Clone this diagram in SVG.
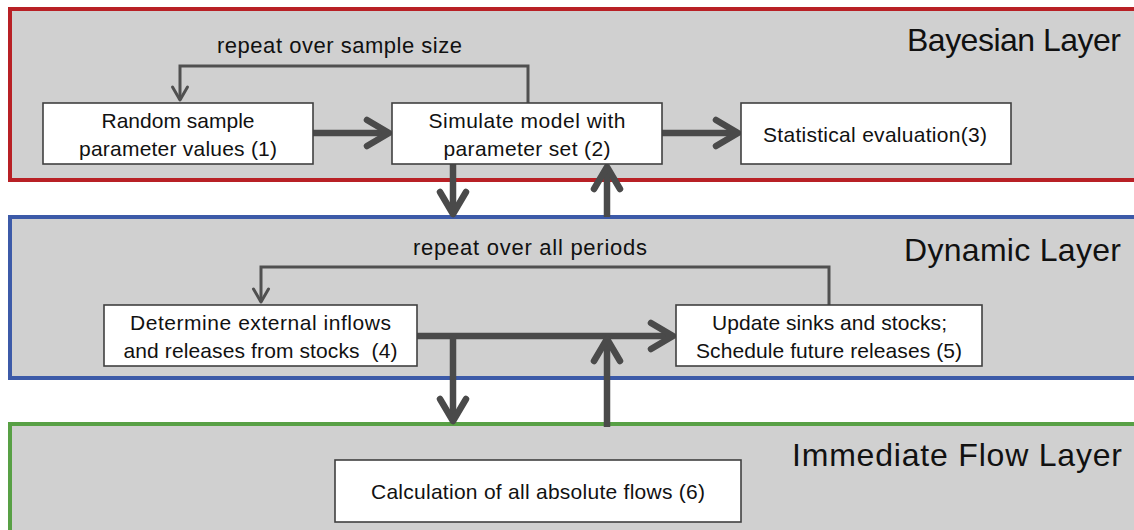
<svg xmlns="http://www.w3.org/2000/svg" width="1134" height="530" viewBox="0 0 1134 530">
<style>
.layer{fill:#d0d0d0;stroke-width:4}
.box{fill:#ffffff;stroke:#404040;stroke-width:1.6}
.t{font-family:"Liberation Sans",Arial,sans-serif;font-size:21px;fill:#111;text-anchor:middle}
.lbl{font-size:22px}
.title{font-family:"Liberation Sans",Arial,sans-serif;font-size:32px;fill:#111;text-anchor:end}
.thick{fill:none;stroke:#4a4a4a;stroke-width:6.5}
.thin{fill:none;stroke:#505050;stroke-width:3}
</style>
<defs>
<marker id="ah" markerUnits="userSpaceOnUse" markerWidth="40" markerHeight="40" refX="0" refY="0" orient="auto" overflow="visible">
<path d="M-22,-13 L0,0 L-22,13" fill="none" stroke="#4a4a4a" stroke-width="6.5" stroke-linecap="round" stroke-linejoin="round"/>
</marker>
<marker id="ahs" markerUnits="userSpaceOnUse" markerWidth="30" markerHeight="30" refX="0" refY="0" orient="auto" overflow="visible">
<path d="M-13,-7.5 L0,0 L-13,7.5" fill="none" stroke="#505050" stroke-width="3" stroke-linecap="round" stroke-linejoin="round"/>
</marker>
</defs>

<g id="layer-bayesian">
<rect class="layer" x="10" y="9" width="1140" height="171" stroke="#b82025"/>
<text class="title" x="1121" y="51" textLength="214">Bayesian Layer</text>
</g>
<g id="layer-dynamic">
<rect class="layer" x="10" y="217" width="1140" height="161" stroke="#3c5aa8"/>
<text class="title" x="1121" y="261" textLength="217">Dynamic Layer</text>
</g>
<g id="layer-immediate">
<rect class="layer" x="10" y="424" width="1140" height="130" stroke="#58a045"/>
<text class="title" x="1122" y="466" textLength="330">Immediate Flow Layer</text>
</g>

<g id="connectors">
<path class="thick" d="M313,133 H389" marker-end="url(#ah)"/>
<path class="thick" d="M662,133 H738" marker-end="url(#ah)"/>
<path class="thick" d="M453,164 V214" marker-end="url(#ah)"/>
<path class="thick" d="M607,217 V167" marker-end="url(#ah)"/>
<path class="thin" d="M528,103 V66 H180 V100" marker-end="url(#ahs)"/>
<path class="thick" d="M417,336 H673" marker-end="url(#ah)"/>
<path class="thick" d="M453,336 V421" marker-end="url(#ah)"/>
<path class="thick" d="M607,427 V339" marker-end="url(#ah)"/>
<path class="thin" d="M829,305 V267 H261 V302" marker-end="url(#ahs)"/>
<text class="t lbl" x="339.5" y="53" textLength="245">repeat over sample size</text>
<text class="t lbl" x="530" y="255" textLength="234">repeat over all periods</text>
</g>

<g id="node1">
<rect class="box" x="43" y="103" width="270" height="61"/>
<text class="t" x="178" y="128" textLength="153">Random sample</text>
<text class="t" x="178" y="156" textLength="198">parameter values (1)</text>
</g>
<g id="node2">
<rect class="box" x="392" y="103" width="270" height="61"/>
<text class="t" x="527" y="128" textLength="197">Simulate model with</text>
<text class="t" x="527" y="156" textLength="167">parameter set (2)</text>
</g>
<g id="node3">
<rect class="box" x="741" y="103" width="270" height="61"/>
<text class="t" x="875" y="142" textLength="224">Statistical evaluation(3)</text>
</g>
<g id="node4">
<rect class="box" x="104" y="305" width="313" height="61"/>
<text class="t" x="260.5" y="330" textLength="261">Determine external inflows</text>
<text class="t" x="260.5" y="358" textLength="274" xml:space="preserve">and releases from stocks  (4)</text>
</g>
<g id="node5">
<rect class="box" x="676" y="305" width="306" height="61"/>
<text class="t" x="829.5" y="330" textLength="235">Update sinks and stocks;</text>
<text class="t" x="829" y="358" textLength="266">Schedule future releases (5)</text>
</g>
<g id="node6">
<rect class="box" x="335" y="460" width="406" height="62"/>
<text class="t" x="538" y="499" textLength="334">Calculation of all absolute flows (6)</text>
</g>
</svg>
